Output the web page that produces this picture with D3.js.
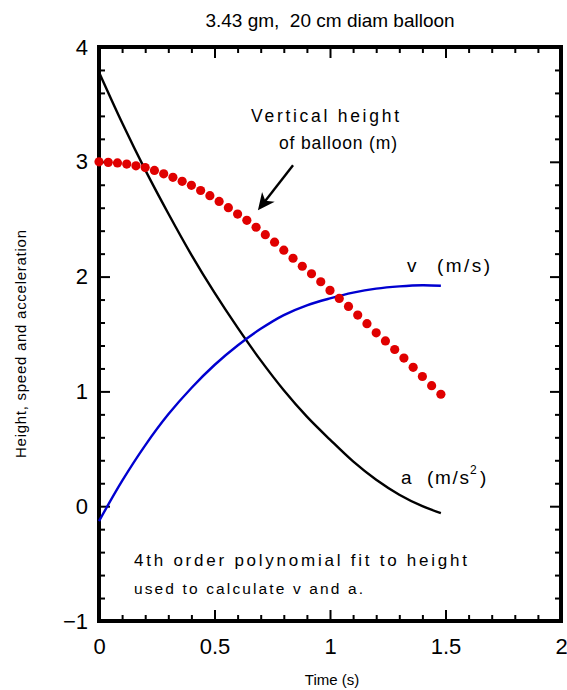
<!DOCTYPE html>
<html><head><meta charset="utf-8">
<script src="https://cdn.jsdelivr.net/npm/d3@7"></script>
<style>
body{margin:0;background:#fff}
text{font-family:"Liberation Sans",Arial,Helvetica,sans-serif;fill:#000;white-space:pre}
</style>
</head><body>
<svg id="chart" width="567" height="690"></svg>
<script>
// ---- data ----
const timeH = [0,0.04,0.08,0.12,0.16,0.2,0.24,0.28,0.32,0.36,0.4,0.44,0.48,0.52,0.56,0.6,0.64,0.68,0.72,0.76,0.8,0.84,0.88,0.92,0.96,1,1.04,1.08,1.12,1.16,1.2,1.24,1.28,1.32,1.36,1.4,1.44,1.48];
const heightM = [3.00,2.995,2.99,2.98,2.965,2.95,2.925,2.895,2.865,2.83,2.795,2.75,2.705,2.655,2.60,2.545,2.49,2.43,2.365,2.30,2.23,2.16,2.09,2.025,1.955,1.88,1.81,1.74,1.665,1.59,1.51,1.44,1.365,1.29,1.21,1.13,1.05,0.975];
const timeFit = [0,0.1,0.2,0.3,0.4,0.5,0.6,0.7,0.8,0.9,1.0,1.1,1.2,1.3,1.4,1.48];
const speed = [-0.13,0.22,0.53,0.80,1.03,1.23,1.40,1.545,1.665,1.75,1.81,1.86,1.895,1.915,1.925,1.92];
const accel = [3.78,3.34,2.93,2.55,2.19,1.86,1.555,1.27,1.01,0.78,0.58,0.39,0.23,0.10,0.0,-0.06];
const xMajor = [0,0.5,1,1.5,2];
const xMinor = [0.1,0.2,0.3,0.4,0.6,0.7,0.8,0.9,1.1,1.2,1.3,1.4,1.6,1.7,1.8,1.9];
const yMajor = [-1,0,1,2,3,4];
const yMinor = [-0.8,-0.6,-0.4,-0.2,0.2,0.4,0.6,0.8,1.2,1.4,1.6,1.8,2.2,2.4,2.6,2.8,3.2,3.4,3.6,3.8];

const svg = d3.select("#chart");
const L = 99, R = 561, T = 47, B = 621;
const x = d3.scaleLinear().domain([0,2]).range([L,R]);
const y = d3.scaleLinear().domain([-1,4]).range([B,T]);
const FONT = '"Liberation Sans",Arial,Helvetica,sans-serif';

function styleAxis(g){
  g.select(".domain").remove();
  g.selectAll(".tick line").attr("stroke","#000").attr("stroke-width",2);
  g.selectAll("text").attr("font-size",22).style("font-family",FONT);
}
// bottom
svg.append("g").attr("transform",`translate(0,${B})`)
  .call(d3.axisBottom(x).tickValues(xMajor).tickSize(-11).tickPadding(17).tickFormat(d3.format("")))
  .call(styleAxis);
svg.append("g").attr("transform",`translate(0,${B})`)
  .call(d3.axisBottom(x).tickValues(xMinor).tickSize(-6).tickFormat("")).call(styleAxis);
// top
svg.append("g").attr("transform",`translate(0,${T})`)
  .call(d3.axisTop(x).tickValues(xMajor).tickSize(-11).tickFormat("")).call(styleAxis);
svg.append("g").attr("transform",`translate(0,${T})`)
  .call(d3.axisTop(x).tickValues(xMinor).tickSize(-6).tickFormat("")).call(styleAxis);
// left
svg.append("g").attr("transform",`translate(${L},0)`)
  .call(d3.axisLeft(y).tickValues(yMajor).tickSize(-11).tickPadding(11).tickFormat(d3.format("")))
  .call(styleAxis);
svg.append("g").attr("transform",`translate(${L},0)`)
  .call(d3.axisLeft(y).tickValues(yMinor).tickSize(-6).tickFormat("")).call(styleAxis);
// right
svg.append("g").attr("transform",`translate(${R},0)`)
  .call(d3.axisRight(y).tickValues(yMajor).tickSize(-11).tickFormat("")).call(styleAxis);
svg.append("g").attr("transform",`translate(${R},0)`)
  .call(d3.axisRight(y).tickValues(yMinor).tickSize(-6).tickFormat("")).call(styleAxis);

// frame
svg.append("rect").attr("x",L).attr("y",T).attr("width",R-L).attr("height",B-T)
  .attr("fill","none").attr("stroke","#000").attr("stroke-width",4);

// curves
const line = d3.line().curve(d3.curveCatmullRom).x(d=>x(d[0])).y(d=>y(d[1]));
svg.append("path").datum(timeFit.map((t,i)=>[t,accel[i]]))
  .attr("d",line).attr("fill","none").attr("stroke","#000").attr("stroke-width",2.4);
svg.append("path").datum(timeFit.map((t,i)=>[t,speed[i]]))
  .attr("d",line).attr("fill","none").attr("stroke","#0000d0").attr("stroke-width",2.4);

// height dots
svg.append("g").selectAll("circle").data(timeH.map((t,i)=>[t,heightM[i]])).join("circle")
  .attr("cx",d=>x(d[0])).attr("cy",d=>y(d[1])).attr("r",4.6).attr("fill","#e00000");

// helper for spaced text
function txt(xp, yp, size, s, len){
  const t = svg.append("text").attr("x",xp).attr("y",yp).attr("font-size",size).text(s);
  if (len) t.attr("textLength",len).attr("lengthAdjust","spacing");
  return t;
}
// title & axis labels
svg.append("text").attr("x",330).attr("y",27).attr("text-anchor","middle").attr("font-size",19)
  .text("3.43 gm,  20 cm diam balloon");
svg.append("text").attr("x",332).attr("y",685).attr("text-anchor","middle").attr("font-size",15).text("Time (s)");
svg.append("text").attr("transform","translate(26,344) rotate(-90)").attr("text-anchor","middle")
  .attr("font-size",15).attr("textLength",228).attr("lengthAdjust","spacing")
  .text("Height, speed and acceleration");

// annotations
txt(251, 122, 17.5, "Vertical height", 148);
txt(279, 149, 17.5, "of balloon (m)", 118);
txt(407, 272, 19, "v");
txt(437, 272, 19, "(m/s)", 53);
txt(401, 484, 19, "a");
txt(427, 484, 19, "(m/s", 42);
txt(470, 474, 12, "2");
txt(480, 484, 19, ")");
txt(134, 566, 17, "4th order polynomial fit to height", 333);
txt(134, 594, 15.5, "used to calculate v and a.", 229);

// arrow
const ax0 = x(0.84), ay0 = y(2.97), ax1 = x(0.688), ay1 = y(2.578);
const ang = Math.atan2(ay1-ay0, ax1-ax0);
svg.append("line").attr("x1",ax0).attr("y1",ay0).attr("x2",ax1-8*Math.cos(ang)).attr("y2",ay1-8*Math.sin(ang))
  .attr("stroke","#000").attr("stroke-width",2.4);
svg.append("path").attr("d","M0,0 L-17,-8 L-12,0 L-17,8 Z").attr("fill","#000")
  .attr("transform",`translate(${ax1},${ay1}) rotate(${ang*180/Math.PI})`);
</script>
</body></html>
